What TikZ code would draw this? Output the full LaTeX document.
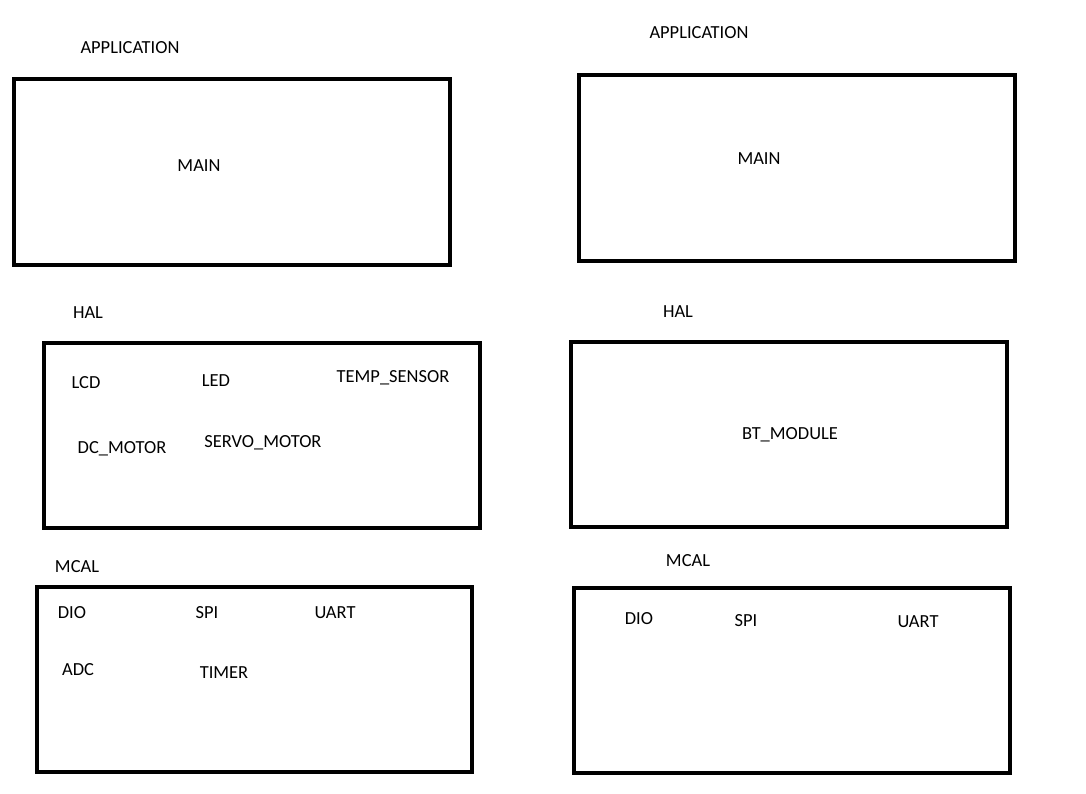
\documentclass[tikz,border=0pt]{standalone}
\usepackage{fontspec}
\setmainfont{Carlito}
\usetikzlibrary{positioning}
\begin{document}
\begin{tikzpicture}[x=0.02cm, y=-0.02cm, font=\fontsize{10.5}{12}\selectfont, line join=miter,
		layer/.style={draw, line width=2.3pt, inner sep=0pt},
		lbl/.style={inner sep=0pt, yshift=-0.6pt}]
	\useasboundingbox (0,0) rectangle (1086,794);
	% left stack
	\draw[layer] (14,79) rectangle (450,265);
	\draw[layer] (44,343) rectangle (480,528);
	\draw[layer] (37,587) rectangle (472,772);
	\node[lbl] (appL) at (130,47) {APPLICATION};
	\node[lbl] (mainL) at (199,165) {MAIN};
	\node[lbl] (halL) at (88,312) {HAL};
	\node[lbl] (lcd) at (86,382) {LCD};
	\node[lbl] (led) at (216,380) {LED};
	\node[lbl] (temp) at (393,377) {TEMP\_SENSOR};
	\node[lbl] (dcm) at (122,448) {DC\_MOTOR};
	\node[lbl] (servo) at (263,442) {SERVO\_MOTOR};
	\node[lbl] (mcalL) at (77,566) {MCAL};
	\node[lbl] (dioL) at (72,612) {DIO};
	\node[lbl] (spiL) at (207,612) {SPI};
	\node[lbl] (uartL) at (335,612) {UART};
	\node[lbl] (adc) at (78,669) {ADC};
	\node[lbl] (timer) at (224,672) {TIMER};
	% right stack
	\draw[layer] (579,75) rectangle (1015,261);
	\draw[layer] (571,342) rectangle (1007,527);
	\draw[layer] (574,588) rectangle (1010,773);
	\node[lbl] (appR) at (699,32) {APPLICATION};
	\node[lbl] (mainR) at (759,158) {MAIN};
	\node[lbl] (halR) at (678,311) {HAL};
	\node[lbl] (bt) at (790,434) {BT\_MODULE};
	\node[lbl] (mcalR) at (688,560) {MCAL};
	\node[lbl] (dioR) at (639,618) {DIO};
	\node[lbl] (spiR) at (746,620) {SPI};
	\node[lbl] (uartR) at (918,621) {UART};
\end{tikzpicture}
\end{document}
